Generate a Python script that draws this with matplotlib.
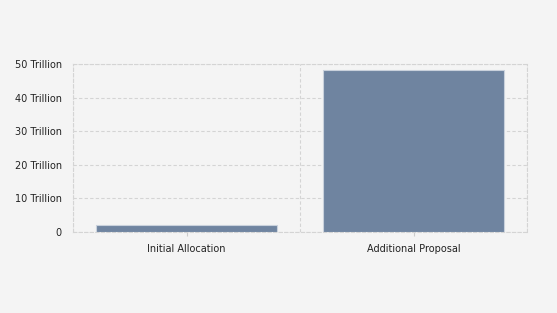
import matplotlib
matplotlib.use('Agg')
import matplotlib.pyplot as plt
import numpy as np

categories = ['Initial Allocation', 'Additional Proposal']
values = [2.0, 48.2]  # trillions
yticks = [0, 10, 20, 30, 40, 50]
ytick_labels = ['0', '10 Trillion', '20 Trillion', '30 Trillion', '40 Trillion', '50 Trillion']

bg = '#f4f4f4'
fig = plt.figure(figsize=(5.57, 3.13), dpi=100, facecolor=bg)
ax = fig.add_axes([73/557, 1-232/313, (527-73)/557, (232-64)/313], facecolor=bg)

x = np.arange(len(categories))
ax.bar(x, values, width=0.8, color='#6f84a0', edgecolor='#c9d1dc', linewidth=0.8, zorder=3)

ax.set_xlim(-0.5, len(categories)-0.5)
ax.set_ylim(0, 50)
ax.set_yticks(yticks)
ax.set_yticklabels(ytick_labels)
ax.set_xticks(x)
ax.set_xticklabels(categories)
ax.set_xticks(np.arange(len(categories)+1)-0.5, minor=True)

ax.grid(axis='y', which='major', color='#d4d4d4', linestyle=(0, (3, 2)), linewidth=0.8)
ax.grid(axis='x', which='minor', color='#d4d4d4', linestyle=(0, (3, 2)), linewidth=0.8)
ax.tick_params(axis='x', which='minor', length=0)
ax.tick_params(axis='x', which='major', length=3, color='#cccccc', labelsize=7, pad=6, labelcolor='#222222')
ax.tick_params(axis='y', length=0, labelsize=7, pad=8, labelcolor='#222222')
for s in ax.spines.values():
    s.set_color('#d4d4d4')
    s.set_linestyle((0, (3, 2)))
    s.set_linewidth(0.8)

fig.savefig('out.png', dpi=100, facecolor=bg)
